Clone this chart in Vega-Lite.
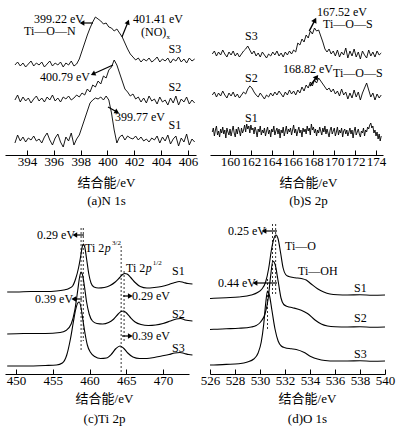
{
"$schema": "https://vega.github.io/schema/vega-lite/v6.json",
"padding": {"left": 5, "top": 5, "right": 5, "bottom": 5},
"background": "white",
"config": {
  "view": {"stroke": null},
  "font": "Liberation Serif",
  "text": {"font": "Liberation Serif", "fontSize": 12, "color": "black"},
  "axis": {"labelOverlap": false},
  "axisQuantitative": {"labelOverlap": false},
  "axisX": {"domainColor": "black", "tickColor": "black", "labelColor": "black", "titleColor": "black", "labelFont": "Liberation Serif", "labelFontSize": 13, "titleFont": "Liberation Serif, Noto Sans CJK SC", "titleFontSize": 13, "titleFontWeight": "normal", "tickSize": -5, "labelPadding": 5, "labelFlush": false, "labelOverlap": false, "grid": false, "titleLineHeight": 18, "titlePadding": 8}
},
"datasets": {
"aL": [
{"s":1,"x":393.1,"y":12},{"s":1,"x":393.3,"y":20},{"s":1,"x":393.5,"y":14},{"s":1,"x":393.7,"y":18},{"s":1,"x":393.9,"y":13},{"s":1,"x":394.1,"y":17},{"s":1,"x":394.3,"y":15},{"s":1,"x":394.5,"y":19},{"s":1,"x":394.7,"y":14},{"s":1,"x":394.9,"y":16},{"s":1,"x":395.1,"y":12},{"s":1,"x":395.3,"y":18},{"s":1,"x":395.5,"y":22},{"s":1,"x":395.7,"y":15},{"s":1,"x":395.9,"y":10},{"s":1,"x":396.1,"y":17},{"s":1,"x":396.3,"y":21},{"s":1,"x":396.5,"y":13},{"s":1,"x":396.7,"y":8},{"s":1,"x":396.9,"y":18},{"s":1,"x":397.1,"y":14},{"s":1,"x":397.3,"y":22},{"s":1,"x":397.5,"y":10},{"s":1,"x":397.7,"y":16},{"s":1,"x":397.9,"y":20},{"s":1,"x":398.1,"y":28},{"s":1,"x":398.3,"y":36},{"s":1,"x":398.5,"y":44},{"s":1,"x":398.7,"y":52},{"s":1,"x":398.9,"y":55},{"s":1,"x":399.1,"y":57},{"s":1,"x":399.3,"y":56},{"s":1,"x":399.5,"y":58},{"s":1,"x":399.7,"y":55},{"s":1,"x":399.9,"y":59},{"s":1,"x":400.1,"y":55},{"s":1,"x":400.3,"y":42},{"s":1,"x":400.5,"y":25},{"s":1,"x":400.7,"y":12},{"s":1,"x":400.9,"y":18},{"s":1,"x":401.1,"y":20},{"s":1,"x":401.3,"y":15},{"s":1,"x":401.5,"y":19},{"s":1,"x":401.7,"y":17},{"s":1,"x":401.9,"y":16},{"s":1,"x":402.1,"y":19},{"s":1,"x":402.3,"y":15},{"s":1,"x":402.5,"y":18},{"s":1,"x":402.7,"y":14},{"s":1,"x":402.9,"y":16},{"s":1,"x":403.1,"y":13},{"s":1,"x":403.3,"y":17},{"s":1,"x":403.5,"y":15},{"s":1,"x":403.7,"y":19},{"s":1,"x":403.9,"y":12},{"s":1,"x":404.1,"y":18},{"s":1,"x":404.3,"y":14},{"s":1,"x":404.5,"y":20},{"s":1,"x":404.7,"y":11},{"s":1,"x":404.9,"y":16},{"s":1,"x":405.1,"y":19},{"s":1,"x":405.3,"y":9},{"s":1,"x":405.5,"y":17},{"s":1,"x":405.7,"y":13},{"s":1,"x":405.9,"y":21},{"s":1,"x":406.1,"y":10},{"s":1,"x":406.3,"y":16},{"s":1,"x":406.5,"y":13},
{"s":2,"x":393.1,"y":55},{"s":2,"x":393.3,"y":60},{"s":2,"x":393.5,"y":53},{"s":2,"x":393.7,"y":58},{"s":2,"x":393.9,"y":54},{"s":2,"x":394.1,"y":57},{"s":2,"x":394.3,"y":52},{"s":2,"x":394.5,"y":56},{"s":2,"x":394.7,"y":59},{"s":2,"x":394.9,"y":54},{"s":2,"x":395.1,"y":57},{"s":2,"x":395.3,"y":53},{"s":2,"x":395.5,"y":58},{"s":2,"x":395.7,"y":55},{"s":2,"x":395.9,"y":60},{"s":2,"x":396.1,"y":54},{"s":2,"x":396.3,"y":57},{"s":2,"x":396.5,"y":53},{"s":2,"x":396.7,"y":58},{"s":2,"x":396.9,"y":56},{"s":2,"x":397.1,"y":59},{"s":2,"x":397.3,"y":55},{"s":2,"x":397.5,"y":57},{"s":2,"x":397.7,"y":60},{"s":2,"x":397.9,"y":58},{"s":2,"x":398.1,"y":62},{"s":2,"x":398.3,"y":60},{"s":2,"x":398.5,"y":66},{"s":2,"x":398.7,"y":63},{"s":2,"x":398.9,"y":70},{"s":2,"x":399.1,"y":68},{"s":2,"x":399.3,"y":74},{"s":2,"x":399.5,"y":71},{"s":2,"x":399.7,"y":79},{"s":2,"x":399.9,"y":77},{"s":2,"x":400.1,"y":85},{"s":2,"x":400.3,"y":88},{"s":2,"x":400.5,"y":95},{"s":2,"x":400.7,"y":90},{"s":2,"x":400.9,"y":82},{"s":2,"x":401.1,"y":74},{"s":2,"x":401.3,"y":66},{"s":2,"x":401.5,"y":63},{"s":2,"x":401.7,"y":59},{"s":2,"x":401.9,"y":61},{"s":2,"x":402.1,"y":56},{"s":2,"x":402.3,"y":58},{"s":2,"x":402.5,"y":53},{"s":2,"x":402.7,"y":57},{"s":2,"x":402.9,"y":52},{"s":2,"x":403.1,"y":59},{"s":2,"x":403.3,"y":54},{"s":2,"x":403.5,"y":56},{"s":2,"x":403.7,"y":51},{"s":2,"x":403.9,"y":58},{"s":2,"x":404.1,"y":53},{"s":2,"x":404.3,"y":55},{"s":2,"x":404.5,"y":50},{"s":2,"x":404.7,"y":57},{"s":2,"x":404.9,"y":52},{"s":2,"x":405.1,"y":59},{"s":2,"x":405.3,"y":50},{"s":2,"x":405.5,"y":56},{"s":2,"x":405.7,"y":53},{"s":2,"x":405.9,"y":58},{"s":2,"x":406.1,"y":51},{"s":2,"x":406.3,"y":55},{"s":2,"x":406.5,"y":52},
{"s":3,"x":393.1,"y":90},{"s":3,"x":393.3,"y":93},{"s":3,"x":393.5,"y":89},{"s":3,"x":393.7,"y":92},{"s":3,"x":393.9,"y":88},{"s":3,"x":394.1,"y":91},{"s":3,"x":394.3,"y":94},{"s":3,"x":394.5,"y":89},{"s":3,"x":394.7,"y":92},{"s":3,"x":394.9,"y":90},{"s":3,"x":395.1,"y":93},{"s":3,"x":395.3,"y":88},{"s":3,"x":395.5,"y":91},{"s":3,"x":395.7,"y":94},{"s":3,"x":395.9,"y":89},{"s":3,"x":396.1,"y":92},{"s":3,"x":396.3,"y":90},{"s":3,"x":396.5,"y":93},{"s":3,"x":396.7,"y":88},{"s":3,"x":396.9,"y":92},{"s":3,"x":397.1,"y":90},{"s":3,"x":397.3,"y":94},{"s":3,"x":397.5,"y":89},{"s":3,"x":397.7,"y":91},{"s":3,"x":397.9,"y":96},{"s":3,"x":398.1,"y":104},{"s":3,"x":398.3,"y":112},{"s":3,"x":398.5,"y":120},{"s":3,"x":398.7,"y":127},{"s":3,"x":398.9,"y":133},{"s":3,"x":399.1,"y":138},{"s":3,"x":399.3,"y":136},{"s":3,"x":399.5,"y":134},{"s":3,"x":399.7,"y":131},{"s":3,"x":399.9,"y":132},{"s":3,"x":400.1,"y":128},{"s":3,"x":400.3,"y":127},{"s":3,"x":400.5,"y":124},{"s":3,"x":400.7,"y":126},{"s":3,"x":400.9,"y":122},{"s":3,"x":401.1,"y":118},{"s":3,"x":401.3,"y":112},{"s":3,"x":401.5,"y":106},{"s":3,"x":401.7,"y":101},{"s":3,"x":401.9,"y":98},{"s":3,"x":402.1,"y":95},{"s":3,"x":402.3,"y":97},{"s":3,"x":402.5,"y":93},{"s":3,"x":402.7,"y":96},{"s":3,"x":402.9,"y":94},{"s":3,"x":403.1,"y":97},{"s":3,"x":403.3,"y":93},{"s":3,"x":403.5,"y":95},{"s":3,"x":403.7,"y":98},{"s":3,"x":403.9,"y":93},{"s":3,"x":404.1,"y":96},{"s":3,"x":404.3,"y":94},{"s":3,"x":404.5,"y":97},{"s":3,"x":404.7,"y":92},{"s":3,"x":404.9,"y":96},{"s":3,"x":405.1,"y":94},{"s":3,"x":405.3,"y":98},{"s":3,"x":405.5,"y":93},{"s":3,"x":405.7,"y":96},{"s":3,"x":405.9,"y":92},{"s":3,"x":406.1,"y":97},{"s":3,"x":406.3,"y":94},{"s":3,"x":406.5,"y":96}
],
"aT": [
{"t":"399.22 eV","x":394.52,"y":136},{"t":"Ti—O—N","x":393.78,"y":124},{"t":"401.41 eV","x":401.9,"y":136},{"t":"(NO)","x":402.5,"y":123},{"t":"S3","x":404.55,"y":106},{"t":"400.79 eV","x":394.97,"y":78},{"t":"S2","x":404.55,"y":68},{"t":"399.77 eV","x":400.56,"y":38},{"t":"S1","x":404.55,"y":30}
],
"aS": [{"t":"x","x":404.4,"y":118}],
"aA": [
{"id":"a1","x":398.92,"y":132,"x2":398.1,"y2":132},
{"id":"a2","x":401.08,"y":118,"x2":401.53,"y2":133},
{"id":"a3","x":400.41,"y":90,"x2":398.92,"y2":81},
{"id":"a4","x":400.04,"y":48,"x2":400.71,"y2":43}
],
"bL": [
{"s":1,"x":158.3,"y":23},{"s":1,"x":158.4,"y":27},{"s":1,"x":158.5,"y":19},{"s":1,"x":158.6,"y":25},{"s":1,"x":158.7,"y":29},{"s":1,"x":158.8,"y":20},{"s":1,"x":158.9,"y":24},{"s":1,"x":159.0,"y":18},{"s":1,"x":159.1,"y":26},{"s":1,"x":159.2,"y":22},
{"s":1,"x":159.3,"y":28},{"s":1,"x":159.4,"y":21},{"s":1,"x":159.5,"y":25},{"s":1,"x":159.6,"y":17},{"s":1,"x":159.7,"y":27},{"s":1,"x":159.8,"y":23},{"s":1,"x":159.9,"y":20},{"s":1,"x":160.0,"y":26},{"s":1,"x":160.1,"y":19},{"s":1,"x":160.2,"y":24},
{"s":1,"x":160.3,"y":29},{"s":1,"x":160.4,"y":22},{"s":1,"x":160.5,"y":18},{"s":1,"x":160.6,"y":26},{"s":1,"x":160.7,"y":21},{"s":1,"x":160.8,"y":28},{"s":1,"x":160.9,"y":24},{"s":1,"x":161.0,"y":19},{"s":1,"x":161.1,"y":27},{"s":1,"x":161.2,"y":22},
{"s":1,"x":161.3,"y":25},{"s":1,"x":161.4,"y":30},{"s":1,"x":161.5,"y":23},{"s":1,"x":161.6,"y":31},{"s":1,"x":161.7,"y":26},{"s":1,"x":161.8,"y":29},{"s":1,"x":161.9,"y":22},{"s":1,"x":162.0,"y":30},{"s":1,"x":162.1,"y":25},{"s":1,"x":162.2,"y":27},
{"s":1,"x":162.3,"y":21},{"s":1,"x":162.4,"y":28},{"s":1,"x":162.5,"y":24},{"s":1,"x":162.6,"y":18},{"s":1,"x":162.7,"y":26},{"s":1,"x":162.8,"y":23},{"s":1,"x":162.9,"y":29},{"s":1,"x":163.0,"y":20},{"s":1,"x":163.1,"y":25},{"s":1,"x":163.2,"y":22},
{"s":1,"x":163.3,"y":27},{"s":1,"x":163.4,"y":19},{"s":1,"x":163.5,"y":24},{"s":1,"x":163.6,"y":28},{"s":1,"x":163.7,"y":21},{"s":1,"x":163.8,"y":25},{"s":1,"x":163.9,"y":18},{"s":1,"x":164.0,"y":26},{"s":1,"x":164.1,"y":23},{"s":1,"x":164.2,"y":29},
{"s":1,"x":164.3,"y":20},{"s":1,"x":164.4,"y":24},{"s":1,"x":164.5,"y":27},{"s":1,"x":164.6,"y":21},{"s":1,"x":164.7,"y":26},{"s":1,"x":164.8,"y":17},{"s":1,"x":164.9,"y":25},{"s":1,"x":165.0,"y":22},{"s":1,"x":165.1,"y":28},{"s":1,"x":165.2,"y":19},
{"s":1,"x":165.3,"y":24},{"s":1,"x":165.4,"y":29},{"s":1,"x":165.5,"y":21},{"s":1,"x":165.6,"y":26},{"s":1,"x":165.7,"y":23},{"s":1,"x":165.8,"y":27},{"s":1,"x":165.9,"y":20},{"s":1,"x":166.0,"y":25},{"s":1,"x":166.1,"y":30},{"s":1,"x":166.2,"y":22},
{"s":1,"x":166.3,"y":26},{"s":1,"x":166.4,"y":19},{"s":1,"x":166.5,"y":24},{"s":1,"x":166.6,"y":28},{"s":1,"x":166.7,"y":22},{"s":1,"x":166.8,"y":25},{"s":1,"x":166.9,"y":18},{"s":1,"x":167.0,"y":27},{"s":1,"x":167.1,"y":23},{"s":1,"x":167.2,"y":26},
{"s":1,"x":167.3,"y":21},{"s":1,"x":167.4,"y":29},{"s":1,"x":167.5,"y":24},{"s":1,"x":167.6,"y":27},{"s":1,"x":167.7,"y":20},{"s":1,"x":167.8,"y":31},{"s":1,"x":167.9,"y":25},{"s":1,"x":168.0,"y":28},{"s":1,"x":168.1,"y":22},{"s":1,"x":168.2,"y":26},
{"s":1,"x":168.3,"y":19},{"s":1,"x":168.4,"y":25},{"s":1,"x":168.5,"y":22},{"s":1,"x":168.6,"y":28},{"s":1,"x":168.7,"y":24},{"s":1,"x":168.8,"y":20},{"s":1,"x":168.9,"y":27},{"s":1,"x":169.0,"y":23},{"s":1,"x":169.1,"y":29},{"s":1,"x":169.2,"y":21},
{"s":1,"x":169.3,"y":26},{"s":1,"x":169.4,"y":22},{"s":1,"x":169.5,"y":18},{"s":1,"x":169.6,"y":25},{"s":1,"x":169.7,"y":28},{"s":1,"x":169.8,"y":21},{"s":1,"x":169.9,"y":24},{"s":1,"x":170.0,"y":27},{"s":1,"x":170.1,"y":19},{"s":1,"x":170.2,"y":23},
{"s":1,"x":170.3,"y":28},{"s":1,"x":170.4,"y":20},{"s":1,"x":170.5,"y":25},{"s":1,"x":170.6,"y":22},{"s":1,"x":170.7,"y":27},{"s":1,"x":170.8,"y":18},{"s":1,"x":170.9,"y":24},{"s":1,"x":171.0,"y":26},{"s":1,"x":171.1,"y":21},{"s":1,"x":171.2,"y":25},
{"s":1,"x":171.3,"y":19},{"s":1,"x":171.4,"y":23},{"s":1,"x":171.5,"y":27},{"s":1,"x":171.6,"y":21},{"s":1,"x":171.7,"y":25},{"s":1,"x":171.8,"y":17},{"s":1,"x":171.9,"y":24},{"s":1,"x":172.0,"y":28},{"s":1,"x":172.1,"y":20},{"s":1,"x":172.2,"y":23},
{"s":1,"x":172.3,"y":26},{"s":1,"x":172.4,"y":21},{"s":1,"x":172.5,"y":18},{"s":1,"x":172.6,"y":24},{"s":1,"x":172.7,"y":22},{"s":1,"x":172.8,"y":27},{"s":1,"x":172.9,"y":19},{"s":1,"x":173.0,"y":25},{"s":1,"x":173.1,"y":23},{"s":1,"x":173.2,"y":28},
{"s":1,"x":173.3,"y":26},{"s":1,"x":173.4,"y":30},{"s":1,"x":173.5,"y":32},{"s":1,"x":173.6,"y":27},{"s":1,"x":173.7,"y":29},{"s":1,"x":173.8,"y":22},{"s":1,"x":173.9,"y":25},{"s":1,"x":174.0,"y":19},{"s":1,"x":174.1,"y":23},{"s":1,"x":174.2,"y":16},
{"s":1,"x":174.3,"y":21},{"s":1,"x":174.4,"y":14},{"s":1,"x":174.5,"y":19},
{"s":2,"x":158.3,"y":60},{"s":2,"x":158.5,"y":63},{"s":2,"x":158.7,"y":58},{"s":2,"x":158.9,"y":62},{"s":2,"x":159.1,"y":59},{"s":2,"x":159.3,"y":64},{"s":2,"x":159.5,"y":60},{"s":2,"x":159.7,"y":57},{"s":2,"x":159.9,"y":62},
{"s":2,"x":160.1,"y":59},{"s":2,"x":160.3,"y":63},{"s":2,"x":160.5,"y":58},{"s":2,"x":160.7,"y":61},{"s":2,"x":160.9,"y":57},{"s":2,"x":161.1,"y":60},{"s":2,"x":161.3,"y":63},{"s":2,"x":161.5,"y":61},{"s":2,"x":161.7,"y":66},{"s":2,"x":161.9,"y":69},
{"s":2,"x":162.1,"y":67},{"s":2,"x":162.3,"y":63},{"s":2,"x":162.5,"y":60},{"s":2,"x":162.7,"y":58},{"s":2,"x":162.9,"y":62},{"s":2,"x":163.1,"y":59},{"s":2,"x":163.3,"y":56},{"s":2,"x":163.5,"y":60},{"s":2,"x":163.7,"y":58},{"s":2,"x":163.9,"y":62},
{"s":2,"x":164.1,"y":59},{"s":2,"x":164.3,"y":63},{"s":2,"x":164.5,"y":60},{"s":2,"x":164.7,"y":64},{"s":2,"x":164.9,"y":61},{"s":2,"x":165.1,"y":58},{"s":2,"x":165.3,"y":63},{"s":2,"x":165.5,"y":60},{"s":2,"x":165.7,"y":65},{"s":2,"x":165.9,"y":61},
{"s":2,"x":166.1,"y":64},{"s":2,"x":166.3,"y":60},{"s":2,"x":166.5,"y":65},{"s":2,"x":166.7,"y":62},{"s":2,"x":166.9,"y":68},{"s":2,"x":167.1,"y":64},{"s":2,"x":167.3,"y":70},{"s":2,"x":167.5,"y":67},{"s":2,"x":167.7,"y":73},{"s":2,"x":167.9,"y":69},
{"s":2,"x":168.1,"y":75},{"s":2,"x":168.3,"y":72},{"s":2,"x":168.5,"y":77},{"s":2,"x":168.7,"y":74},{"s":2,"x":168.9,"y":71},{"s":2,"x":169.1,"y":68},{"s":2,"x":169.3,"y":65},{"s":2,"x":169.5,"y":67},{"s":2,"x":169.7,"y":63},{"s":2,"x":169.9,"y":66},
{"s":2,"x":170.1,"y":61},{"s":2,"x":170.3,"y":64},{"s":2,"x":170.5,"y":59},{"s":2,"x":170.7,"y":66},{"s":2,"x":170.9,"y":60},{"s":2,"x":171.1,"y":63},{"s":2,"x":171.3,"y":56},{"s":2,"x":171.5,"y":62},{"s":2,"x":171.7,"y":57},{"s":2,"x":171.9,"y":65},
{"s":2,"x":172.1,"y":58},{"s":2,"x":172.3,"y":63},{"s":2,"x":172.5,"y":55},{"s":2,"x":172.7,"y":62},{"s":2,"x":172.9,"y":67},{"s":2,"x":173.1,"y":72},{"s":2,"x":173.3,"y":65},{"s":2,"x":173.5,"y":58},{"s":2,"x":173.7,"y":62},{"s":2,"x":173.9,"y":55},
{"s":2,"x":174.1,"y":61},{"s":2,"x":174.3,"y":57},{"s":2,"x":174.5,"y":60},
{"s":3,"x":158.3,"y":101},{"s":3,"x":158.5,"y":104},{"s":3,"x":158.7,"y":99},{"s":3,"x":158.9,"y":103},{"s":3,"x":159.1,"y":100},{"s":3,"x":159.3,"y":105},{"s":3,"x":159.5,"y":101},{"s":3,"x":159.7,"y":98},{"s":3,"x":159.9,"y":103},
{"s":3,"x":160.1,"y":100},{"s":3,"x":160.3,"y":104},{"s":3,"x":160.5,"y":99},{"s":3,"x":160.7,"y":102},{"s":3,"x":160.9,"y":98},{"s":3,"x":161.1,"y":101},{"s":3,"x":161.3,"y":104},{"s":3,"x":161.5,"y":106},{"s":3,"x":161.7,"y":109},{"s":3,"x":161.9,"y":105},
{"s":3,"x":162.1,"y":101},{"s":3,"x":162.3,"y":104},{"s":3,"x":162.5,"y":99},{"s":3,"x":162.7,"y":102},{"s":3,"x":162.9,"y":98},{"s":3,"x":163.1,"y":103},{"s":3,"x":163.3,"y":100},{"s":3,"x":163.5,"y":97},{"s":3,"x":163.7,"y":101},{"s":3,"x":163.9,"y":99},
{"s":3,"x":164.1,"y":103},{"s":3,"x":164.3,"y":100},{"s":3,"x":164.5,"y":104},{"s":3,"x":164.7,"y":99},{"s":3,"x":164.9,"y":102},{"s":3,"x":165.1,"y":98},{"s":3,"x":165.3,"y":103},{"s":3,"x":165.5,"y":100},{"s":3,"x":165.7,"y":104},{"s":3,"x":165.9,"y":101},
{"s":3,"x":166.1,"y":105},{"s":3,"x":166.3,"y":103},{"s":3,"x":166.5,"y":112},{"s":3,"x":166.7,"y":110},{"s":3,"x":166.9,"y":116},{"s":3,"x":167.1,"y":113},{"s":3,"x":167.3,"y":120},{"s":3,"x":167.5,"y":117},{"s":3,"x":167.7,"y":124},{"s":3,"x":167.9,"y":121},
{"s":3,"x":168.1,"y":127},{"s":3,"x":168.3,"y":124},{"s":3,"x":168.5,"y":125},{"s":3,"x":168.7,"y":119},{"s":3,"x":168.9,"y":113},{"s":3,"x":169.1,"y":106},{"s":3,"x":169.3,"y":103},{"s":3,"x":169.5,"y":106},{"s":3,"x":169.7,"y":101},{"s":3,"x":169.9,"y":104},
{"s":3,"x":170.1,"y":99},{"s":3,"x":170.3,"y":105},{"s":3,"x":170.5,"y":98},{"s":3,"x":170.7,"y":103},{"s":3,"x":170.9,"y":100},{"s":3,"x":171.1,"y":107},{"s":3,"x":171.3,"y":97},{"s":3,"x":171.5,"y":104},{"s":3,"x":171.7,"y":99},{"s":3,"x":171.9,"y":106},
{"s":3,"x":172.1,"y":98},{"s":3,"x":172.3,"y":103},{"s":3,"x":172.5,"y":96},{"s":3,"x":172.7,"y":104},{"s":3,"x":172.9,"y":100},{"s":3,"x":173.1,"y":97},{"s":3,"x":173.3,"y":105},{"s":3,"x":173.5,"y":99},{"s":3,"x":173.7,"y":103},{"s":3,"x":173.9,"y":98},
{"s":3,"x":174.1,"y":104},{"s":3,"x":174.3,"y":100},{"s":3,"x":174.5,"y":102}
],
"bT": [
{"t":"S3","x":161.44,"y":119},{"t":"167.52 eV","x":168.34,"y":143},{"t":"Ti—O—S","x":168.92,"y":131},{"t":"S2","x":161.44,"y":77},{"t":"168.82 eV","x":165.08,"y":86},{"t":"Ti—O—S","x":169.88,"y":82},{"t":"S1","x":161.44,"y":37}
],
"bA": [
{"id":"b1","x":167.6,"y":124,"x2":168.15,"y2":135},
{"id":"b2","x":167.67,"y":69,"x2":168.31,"y2":78}
],
"cL": [
{"s":1,"x":448.8,"y":82},{"s":1,"x":450,"y":82},{"s":1,"x":452,"y":82.5},{"s":1,"x":454,"y":82.5},{"s":1,"x":455.5,"y":83},{"s":1,"x":456.5,"y":84},{"s":1,"x":457.2,"y":85.5},{"s":1,"x":457.7,"y":88},{"s":1,"x":458.1,"y":95},{"s":1,"x":458.5,"y":106},{"s":1,"x":458.8,"y":118},{"s":1,"x":459.0,"y":127},{"s":1,"x":459.15,"y":130},{"s":1,"x":459.35,"y":127},{"s":1,"x":459.6,"y":115},{"s":1,"x":459.9,"y":100},{"s":1,"x":460.2,"y":91},{"s":1,"x":460.6,"y":87},{"s":1,"x":461.2,"y":86},{"s":1,"x":462,"y":86.5},{"s":1,"x":462.8,"y":88.5},{"s":1,"x":463.5,"y":92},{"s":1,"x":464.1,"y":96.5},{"s":1,"x":464.5,"y":99.5},{"s":1,"x":464.8,"y":100.5},{"s":1,"x":465.1,"y":100},{"s":1,"x":465.6,"y":96.5},{"s":1,"x":466.2,"y":91.5},{"s":1,"x":466.9,"y":87.5},{"s":1,"x":467.8,"y":86},{"s":1,"x":468.8,"y":86.5},{"s":1,"x":469.8,"y":87.5},{"s":1,"x":470.8,"y":89.5},{"s":1,"x":471.6,"y":91.5},{"s":1,"x":472.2,"y":92.5},{"s":1,"x":472.8,"y":91.5},{"s":1,"x":473.4,"y":90.5},{"s":1,"x":474,"y":90},
{"s":2,"x":448.8,"y":40},{"s":2,"x":451,"y":40.5},{"s":2,"x":454,"y":40.5},{"s":2,"x":456,"y":41.5},{"s":2,"x":456.8,"y":43.5},{"s":2,"x":457.5,"y":50},{"s":2,"x":458.0,"y":64},{"s":2,"x":458.4,"y":84},{"s":2,"x":458.65,"y":97},{"s":2,"x":458.85,"y":102},{"s":2,"x":459.05,"y":99},{"s":2,"x":459.3,"y":88},{"s":2,"x":459.6,"y":72},{"s":2,"x":459.95,"y":60},{"s":2,"x":460.4,"y":53},{"s":2,"x":461.0,"y":50.5},{"s":2,"x":461.8,"y":50},{"s":2,"x":462.6,"y":51.5},{"s":2,"x":463.3,"y":55},{"s":2,"x":463.9,"y":60},{"s":2,"x":464.3,"y":62.5},{"s":2,"x":464.6,"y":63},{"s":2,"x":464.95,"y":61.5},{"s":2,"x":465.5,"y":57},{"s":2,"x":466.2,"y":52},{"s":2,"x":467,"y":49.5},{"s":2,"x":468,"y":48.5},{"s":2,"x":469,"y":49},{"s":2,"x":470,"y":50.5},{"s":2,"x":471,"y":53},{"s":2,"x":471.8,"y":55},{"s":2,"x":472.4,"y":55.5},{"s":2,"x":473,"y":54},{"s":2,"x":474,"y":53},
{"s":3,"x":448.8,"y":8},{"s":3,"x":451,"y":8},{"s":3,"x":454,"y":8.5},{"s":3,"x":455.5,"y":9},{"s":3,"x":456.3,"y":11},{"s":3,"x":456.9,"y":19},{"s":3,"x":457.4,"y":35},{"s":3,"x":457.8,"y":52},{"s":3,"x":458.1,"y":64},{"s":3,"x":458.4,"y":71},{"s":3,"x":458.6,"y":72},{"s":3,"x":458.85,"y":66},{"s":3,"x":459.1,"y":54},{"s":3,"x":459.4,"y":40},{"s":3,"x":459.7,"y":29},{"s":3,"x":460.1,"y":22},{"s":3,"x":460.7,"y":17.5},{"s":3,"x":461.5,"y":15.5},{"s":3,"x":462.3,"y":16},{"s":3,"x":463,"y":20},{"s":3,"x":463.6,"y":25.5},{"s":3,"x":464.15,"y":28},{"s":3,"x":464.6,"y":26},{"s":3,"x":465.2,"y":21},{"s":3,"x":465.9,"y":17},{"s":3,"x":466.8,"y":15.5},{"s":3,"x":467.8,"y":15.5},{"s":3,"x":468.8,"y":16.5},{"s":3,"x":469.8,"y":18},{"s":3,"x":470.8,"y":19.5},{"s":3,"x":471.6,"y":21},{"s":3,"x":472.3,"y":21.5},{"s":3,"x":472.9,"y":20.5},{"s":3,"x":473.5,"y":19.5},{"s":3,"x":474,"y":19}
],
"cT": [
{"t":"0.29 eV","x":452.86,"y":139},{"t":"Ti 2","x":459.39,"y":126},{"t":"Ti 2","x":464.97,"y":106},{"t":"S1","x":471.22,"y":103},{"t":"0.39 eV","x":452.59,"y":75},{"t":"0.29 eV","x":465.78,"y":78},{"t":"S2","x":471.22,"y":60},{"t":"0.39 eV","x":465.78,"y":38},{"t":"S3","x":471.22,"y":26}
],
"cI": [{"t":"p","x":462.08,"y":126},{"t":"p","x":467.66,"y":106}],
"cS": [{"t":"3/2","x":463.05,"y":131},{"t":"1/2","x":468.6,"y":111}],
"cA": [
{"id":"c1","x":459.25,"y":139,"x2":458.0,"y2":139},
{"id":"c2","x":458.98,"y":75,"x2":457.85,"y2":75},
{"id":"c3","x":464.56,"y":78,"x2":465.55,"y2":78},
{"id":"c4","x":464.42,"y":38,"x2":465.55,"y2":38}
],
"cD": [
{"x":459.15,"y":146,"y2":33},{"x":458.85,"y":146,"y2":23},{"x":464.3,"y":128,"y2":0},{"x":464.7,"y":103,"y2":33}
],
"dL": [
{"s":1,"x":526,"y":75.5},{"s":1,"x":526.3,"y":75.7},{"s":1,"x":527.3,"y":76.3},{"s":1,"x":528.3,"y":77},{"s":1,"x":529.3,"y":79},{"s":1,"x":529.8,"y":81.5},{"s":1,"x":530.15,"y":85},{"s":1,"x":530.45,"y":92},{"s":1,"x":530.7,"y":106},{"s":1,"x":530.9,"y":123},{"s":1,"x":531.1,"y":135},{"s":1,"x":531.28,"y":139},{"s":1,"x":531.45,"y":135},{"s":1,"x":531.65,"y":121},{"s":1,"x":531.85,"y":106},{"s":1,"x":532.05,"y":99.5},{"s":1,"x":532.3,"y":97.5},{"s":1,"x":532.8,"y":96.3},{"s":1,"x":533.3,"y":95.5},{"s":1,"x":533.7,"y":94},{"s":1,"x":534.1,"y":90},{"s":1,"x":534.6,"y":85.3},{"s":1,"x":535.1,"y":82},{"s":1,"x":535.6,"y":80},{"s":1,"x":536.2,"y":79.2},{"s":1,"x":537,"y":79},{"s":1,"x":538,"y":79.2},{"s":1,"x":539,"y":78.8},{"s":1,"x":540,"y":79},
{"s":2,"x":526,"y":44.5},{"s":2,"x":526.3,"y":44.7},{"s":2,"x":527.3,"y":45.2},{"s":2,"x":528.3,"y":45.7},{"s":2,"x":529.3,"y":47},{"s":2,"x":529.7,"y":48.5},{"s":2,"x":530.05,"y":52},{"s":2,"x":530.4,"y":60},{"s":2,"x":530.65,"y":75},{"s":2,"x":530.85,"y":98},{"s":2,"x":531.03,"y":113},{"s":2,"x":531.2,"y":110},{"s":2,"x":531.45,"y":93},{"s":2,"x":531.68,"y":76},{"s":2,"x":531.9,"y":69.5},{"s":2,"x":532.2,"y":67.5},{"s":2,"x":532.6,"y":66.3},{"s":2,"x":533.3,"y":63.7},{"s":2,"x":533.8,"y":60.5},{"s":2,"x":534.4,"y":54},{"s":2,"x":534.9,"y":50},{"s":2,"x":535.4,"y":48},{"s":2,"x":536,"y":47.2},{"s":2,"x":537,"y":47},{"s":2,"x":538,"y":47.2},{"s":2,"x":539,"y":46.8},{"s":2,"x":540,"y":47},
{"s":3,"x":526,"y":9},{"s":3,"x":526.3,"y":9},{"s":3,"x":527.3,"y":9.6},{"s":3,"x":528.3,"y":10.3},{"s":3,"x":529.0,"y":12},{"s":3,"x":529.5,"y":15},{"s":3,"x":529.85,"y":21},{"s":3,"x":530.1,"y":32},{"s":3,"x":530.3,"y":50},{"s":3,"x":530.45,"y":70},{"s":3,"x":530.6,"y":83},{"s":3,"x":530.75,"y":79},{"s":3,"x":530.95,"y":64},{"s":3,"x":531.2,"y":45},{"s":3,"x":531.45,"y":33},{"s":3,"x":531.7,"y":28},{"s":3,"x":532.0,"y":26.3},{"s":3,"x":532.5,"y":25.3},{"s":3,"x":532.9,"y":24.5},{"s":3,"x":533.5,"y":21.8},{"s":3,"x":534.1,"y":17.3},{"s":3,"x":534.6,"y":15},{"s":3,"x":535.2,"y":13.5},{"s":3,"x":536,"y":13},{"s":3,"x":537,"y":13},{"s":3,"x":538,"y":13.2},{"s":3,"x":539,"y":12.8},{"s":3,"x":540,"y":13}
],
"dT": [
{"t":"0.25 eV","x":527.44,"y":143},{"t":"Ti—O","x":532.0,"y":128},{"t":"Ti—OH","x":533.04,"y":103},{"t":"0.44 eV","x":526.64,"y":91},{"t":"S1","x":537.52,"y":86},{"t":"S2","x":537.52,"y":56},{"t":"S3","x":537.52,"y":20}
],
"dA": [
{"id":"d1","x":531.36,"y":143,"x2":530.32,"y2":143},
{"id":"d2","x":531.36,"y":91,"x2":529.6,"y2":91}
],
"dD": [
{"x":531.0,"y":150,"y2":80},{"x":531.25,"y":150,"y2":78},{"x":530.6,"y":95,"y2":43}
]
},
"columns": 2,
"align": "none",
"bounds": "flush",
"spacing": {"row": 73, "column": 14},
"concat": [
 {"width": 191, "height": 144, "layer": [
  {"data": {"name": "aL"}, "mark": {"type": "line", "color": "black", "strokeWidth": 0.9},
   "encoding": {"x": {"field": "x", "type": "quantitative", "scale": {"domain": [392.36, 406.6], "nice": false}, "axis": {"values": [394,396,398,400,402,404,406], "title": ["结合能/eV", "(a)N 1s"], "titleX": 101, "labelOverlap": false, "titleFontWeight": "normal"}},
    "y": {"field": "y", "type": "quantitative", "scale": {"domain": [0, 144], "nice": false}, "axis": null}, "detail": {"field": "s"}}},
  {"data": {"name": "aT"}, "mark": {"type": "text", "align": "left", "baseline": "middle"},
   "encoding": {"x": {"field": "x", "type": "quantitative", "scale": {"domain": [392.36, 406.6], "nice": false}, "axis": {"values": [394,396,398,400,402,404,406], "title": ["结合能/eV", "(a)N 1s"], "titleX": 101, "labelOverlap": false, "titleFontWeight": "normal"}}, "y": {"field": "y", "type": "quantitative", "scale": {"domain": [0, 144], "nice": false}, "axis": null}, "text": {"field": "t"}}},
  {"data": {"name": "aS"}, "mark": {"type": "text", "align": "left", "baseline": "middle", "fontSize": 7},
   "encoding": {"x": {"field": "x", "type": "quantitative", "scale": {"domain": [392.36, 406.6], "nice": false}, "axis": {"values": [394,396,398,400,402,404,406], "title": ["结合能/eV", "(a)N 1s"], "titleX": 101, "labelOverlap": false, "titleFontWeight": "normal"}}, "y": {"field": "y", "type": "quantitative", "scale": {"domain": [0, 144], "nice": false}, "axis": null}, "text": {"field": "t"}}},
  {"data": {"name": "aA"}, "mark": {"type": "rule", "color": "black", "strokeWidth": 1.2},
   "encoding": {"x": {"field": "x", "type": "quantitative", "scale": {"domain": [392.36, 406.6], "nice": false}, "axis": {"values": [394,396,398,400,402,404,406], "title": ["结合能/eV", "(a)N 1s"], "titleX": 101, "labelOverlap": false, "titleFontWeight": "normal"}}, "y": {"field": "y", "type": "quantitative", "scale": {"domain": [0, 144], "nice": false}, "axis": null}, "x2": {"field": "x2"}, "y2": {"field": "y2"}}},
  {"data": {"name": "aA"}, "transform": [{"filter": "datum.id=='a1'"}], "mark": {"type": "point", "shape": "triangle-up", "angle": 270, "filled": true, "size": 30, "opacity": 1, "color": "black"},
   "encoding": {"x": {"field": "x2", "type": "quantitative", "scale": {"domain": [392.36, 406.6], "nice": false}, "axis": {"values": [394,396,398,400,402,404,406], "title": ["结合能/eV", "(a)N 1s"], "titleX": 101, "labelOverlap": false, "titleFontWeight": "normal"}}, "y": {"field": "y2", "type": "quantitative", "scale": {"domain": [0, 144], "nice": false}, "axis": null}}},
  {"data": {"name": "aA"}, "transform": [{"filter": "datum.id=='a2'"}], "mark": {"type": "point", "shape": "triangle-up", "angle": 22, "filled": true, "size": 30, "opacity": 1, "color": "black"},
   "encoding": {"x": {"field": "x2", "type": "quantitative", "scale": {"domain": [392.36, 406.6], "nice": false}, "axis": {"values": [394,396,398,400,402,404,406], "title": ["结合能/eV", "(a)N 1s"], "titleX": 101, "labelOverlap": false, "titleFontWeight": "normal"}}, "y": {"field": "y2", "type": "quantitative", "scale": {"domain": [0, 144], "nice": false}, "axis": null}}},
  {"data": {"name": "aA"}, "transform": [{"filter": "datum.id=='a3'"}], "mark": {"type": "point", "shape": "triangle-up", "angle": 246, "filled": true, "size": 30, "opacity": 1, "color": "black"},
   "encoding": {"x": {"field": "x2", "type": "quantitative", "scale": {"domain": [392.36, 406.6], "nice": false}, "axis": {"values": [394,396,398,400,402,404,406], "title": ["结合能/eV", "(a)N 1s"], "titleX": 101, "labelOverlap": false, "titleFontWeight": "normal"}}, "y": {"field": "y2", "type": "quantitative", "scale": {"domain": [0, 144], "nice": false}, "axis": null}}},
  {"data": {"name": "aA"}, "transform": [{"filter": "datum.id=='a4'"}], "mark": {"type": "point", "shape": "triangle-up", "angle": 119, "filled": true, "size": 30, "opacity": 1, "color": "black"},
   "encoding": {"x": {"field": "x2", "type": "quantitative", "scale": {"domain": [392.36, 406.6], "nice": false}, "axis": {"values": [394,396,398,400,402,404,406], "title": ["结合能/eV", "(a)N 1s"], "titleX": 101, "labelOverlap": false, "titleFontWeight": "normal"}}, "y": {"field": "y2", "type": "quantitative", "scale": {"domain": [0, 144], "nice": false}, "axis": null}}}
 ]},
 {"width": 173, "height": 144, "layer": [
  {"data": {"name": "bL"}, "mark": {"type": "line", "color": "black", "strokeWidth": 0.9},
   "encoding": {"x": {"field": "x", "type": "quantitative", "scale": {"domain": [158.08, 174.67], "nice": false}, "axis": {"values": [160,162,164,166,168,170,172,174], "title": ["结合能/eV", "(b)S 2p"], "titleX": 98, "labelOverlap": false, "titleFontWeight": "normal"}},
    "y": {"field": "y", "type": "quantitative", "scale": {"domain": [0, 144], "nice": false}, "axis": null}, "detail": {"field": "s"}}},
  {"data": {"name": "bT"}, "mark": {"type": "text", "align": "left", "baseline": "middle"},
   "encoding": {"x": {"field": "x", "type": "quantitative", "scale": {"domain": [158.08, 174.67], "nice": false}, "axis": {"values": [160,162,164,166,168,170,172,174], "title": ["结合能/eV", "(b)S 2p"], "titleX": 98, "labelOverlap": false, "titleFontWeight": "normal"}}, "y": {"field": "y", "type": "quantitative", "scale": {"domain": [0, 144], "nice": false}, "axis": null}, "text": {"field": "t"}}},
  {"data": {"name": "bA"}, "mark": {"type": "rule", "color": "black", "strokeWidth": 1.5},
   "encoding": {"x": {"field": "x", "type": "quantitative", "scale": {"domain": [158.08, 174.67], "nice": false}, "axis": {"values": [160,162,164,166,168,170,172,174], "title": ["结合能/eV", "(b)S 2p"], "titleX": 98, "labelOverlap": false, "titleFontWeight": "normal"}}, "y": {"field": "y", "type": "quantitative", "scale": {"domain": [0, 144], "nice": false}, "axis": null}, "x2": {"field": "x2"}, "y2": {"field": "y2"}}},
  {"data": {"name": "bA"}, "transform": [{"filter": "datum.id=='b1'"}], "mark": {"type": "point", "shape": "triangle-up", "angle": 27, "filled": true, "size": 35, "opacity": 1, "color": "black"},
   "encoding": {"x": {"field": "x2", "type": "quantitative", "scale": {"domain": [158.08, 174.67], "nice": false}, "axis": {"values": [160,162,164,166,168,170,172,174], "title": ["结合能/eV", "(b)S 2p"], "titleX": 98, "labelOverlap": false, "titleFontWeight": "normal"}}, "y": {"field": "y2", "type": "quantitative", "scale": {"domain": [0, 144], "nice": false}, "axis": null}}},
  {"data": {"name": "bA"}, "transform": [{"filter": "datum.id=='b2'"}], "mark": {"type": "point", "shape": "triangle-up", "angle": 36, "filled": true, "size": 35, "opacity": 1, "color": "black"},
   "encoding": {"x": {"field": "x2", "type": "quantitative", "scale": {"domain": [158.08, 174.67], "nice": false}, "axis": {"values": [160,162,164,166,168,170,172,174], "title": ["结合能/eV", "(b)S 2p"], "titleX": 98, "labelOverlap": false, "titleFontWeight": "normal"}}, "y": {"field": "y2", "type": "quantitative", "scale": {"domain": [0, 144], "nice": false}, "axis": null}}}
 ]},
 {"width": 184, "height": 146, "layer": [
  {"data": {"name": "cL"}, "mark": {"type": "line", "color": "black", "strokeWidth": 1.1, "interpolate": "monotone"},
   "encoding": {"x": {"field": "x", "type": "quantitative", "scale": {"domain": [448.5, 473.53], "nice": false}, "axis": {"values": [450,455,460,465,470], "title": ["结合能/eV", "(c)Ti 2p"], "titleX": 99, "titlePadding": 5, "titleLineHeight": 20, "labelOverlap": false, "titleFontWeight": "normal"}},
    "y": {"field": "y", "type": "quantitative", "scale": {"domain": [0, 146], "nice": false}, "axis": null}, "detail": {"field": "s"}}},
  {"data": {"name": "cD"}, "mark": {"type": "rule", "color": "black", "strokeWidth": 0.8, "strokeDash": [2, 2]},
   "encoding": {"x": {"field": "x", "type": "quantitative", "scale": {"domain": [448.5, 473.53], "nice": false}, "axis": {"values": [450,455,460,465,470], "title": ["结合能/eV", "(c)Ti 2p"], "titleX": 99, "titlePadding": 5, "titleLineHeight": 20, "labelOverlap": false, "titleFontWeight": "normal"}}, "y": {"field": "y", "type": "quantitative", "scale": {"domain": [0, 146], "nice": false}, "axis": null}, "y2": {"field": "y2"}}},
  {"data": {"name": "cT"}, "mark": {"type": "text", "align": "left", "baseline": "middle"},
   "encoding": {"x": {"field": "x", "type": "quantitative", "scale": {"domain": [448.5, 473.53], "nice": false}, "axis": {"values": [450,455,460,465,470], "title": ["结合能/eV", "(c)Ti 2p"], "titleX": 99, "titlePadding": 5, "titleLineHeight": 20, "labelOverlap": false, "titleFontWeight": "normal"}}, "y": {"field": "y", "type": "quantitative", "scale": {"domain": [0, 146], "nice": false}, "axis": null}, "text": {"field": "t"}}},
  {"data": {"name": "cI"}, "mark": {"type": "text", "align": "left", "baseline": "middle", "fontStyle": "italic"},
   "encoding": {"x": {"field": "x", "type": "quantitative", "scale": {"domain": [448.5, 473.53], "nice": false}, "axis": {"values": [450,455,460,465,470], "title": ["结合能/eV", "(c)Ti 2p"], "titleX": 99, "titlePadding": 5, "titleLineHeight": 20, "labelOverlap": false, "titleFontWeight": "normal"}}, "y": {"field": "y", "type": "quantitative", "scale": {"domain": [0, 146], "nice": false}, "axis": null}, "text": {"field": "t"}}},
  {"data": {"name": "cS"}, "mark": {"type": "text", "align": "left", "baseline": "middle", "fontSize": 7},
   "encoding": {"x": {"field": "x", "type": "quantitative", "scale": {"domain": [448.5, 473.53], "nice": false}, "axis": {"values": [450,455,460,465,470], "title": ["结合能/eV", "(c)Ti 2p"], "titleX": 99, "titlePadding": 5, "titleLineHeight": 20, "labelOverlap": false, "titleFontWeight": "normal"}}, "y": {"field": "y", "type": "quantitative", "scale": {"domain": [0, 146], "nice": false}, "axis": null}, "text": {"field": "t"}}},
  {"data": {"name": "cA"}, "mark": {"type": "rule", "color": "black", "strokeWidth": 1.2},
   "encoding": {"x": {"field": "x", "type": "quantitative", "scale": {"domain": [448.5, 473.53], "nice": false}, "axis": {"values": [450,455,460,465,470], "title": ["结合能/eV", "(c)Ti 2p"], "titleX": 99, "titlePadding": 5, "titleLineHeight": 20, "labelOverlap": false, "titleFontWeight": "normal"}}, "y": {"field": "y", "type": "quantitative", "scale": {"domain": [0, 146], "nice": false}, "axis": null}, "x2": {"field": "x2"}, "y2": {"field": "y2"}}},
  {"data": {"name": "cA"}, "transform": [{"filter": "datum.id=='c1' || datum.id=='c2'"}], "mark": {"type": "point", "shape": "triangle-up", "angle": 270, "filled": true, "size": 30, "opacity": 1, "color": "black"},
   "encoding": {"x": {"field": "x2", "type": "quantitative", "scale": {"domain": [448.5, 473.53], "nice": false}, "axis": {"values": [450,455,460,465,470], "title": ["结合能/eV", "(c)Ti 2p"], "titleX": 99, "titlePadding": 5, "titleLineHeight": 20, "labelOverlap": false, "titleFontWeight": "normal"}}, "y": {"field": "y2", "type": "quantitative", "scale": {"domain": [0, 146], "nice": false}, "axis": null}}},
  {"data": {"name": "cA"}, "transform": [{"filter": "datum.id=='c3' || datum.id=='c4'"}], "mark": {"type": "point", "shape": "triangle-up", "angle": 90, "filled": true, "size": 30, "opacity": 1, "color": "black"},
   "encoding": {"x": {"field": "x2", "type": "quantitative", "scale": {"domain": [448.5, 473.53], "nice": false}, "axis": {"values": [450,455,460,465,470], "title": ["结合能/eV", "(c)Ti 2p"], "titleX": 99, "titlePadding": 5, "titleLineHeight": 20, "labelOverlap": false, "titleFontWeight": "normal"}}, "y": {"field": "y2", "type": "quantitative", "scale": {"domain": [0, 146], "nice": false}, "axis": null}}}
 ]},
 {"width": 175, "height": 146, "layer": [
  {"data": {"name": "dL"}, "mark": {"type": "line", "color": "black", "strokeWidth": 1.1, "interpolate": "monotone"},
   "encoding": {"x": {"field": "x", "type": "quantitative", "scale": {"domain": [526, 540], "nice": false}, "axis": {"values": [526,528,530,532,534,536,538,540], "title": ["结合能/eV", "(d)O 1s"], "titleX": 97, "titlePadding": 5, "titleLineHeight": 20, "labelOverlap": false, "titleFontWeight": "normal"}},
    "y": {"field": "y", "type": "quantitative", "scale": {"domain": [0, 146], "nice": false}, "axis": null}, "detail": {"field": "s"}}},
  {"data": {"name": "dD"}, "mark": {"type": "rule", "color": "black", "strokeWidth": 0.8, "strokeDash": [2, 2]},
   "encoding": {"x": {"field": "x", "type": "quantitative", "scale": {"domain": [526, 540], "nice": false}, "axis": {"values": [526,528,530,532,534,536,538,540], "title": ["结合能/eV", "(d)O 1s"], "titleX": 97, "titlePadding": 5, "titleLineHeight": 20, "labelOverlap": false, "titleFontWeight": "normal"}}, "y": {"field": "y", "type": "quantitative", "scale": {"domain": [0, 146], "nice": false}, "axis": null}, "y2": {"field": "y2"}}},
  {"data": {"name": "dT"}, "mark": {"type": "text", "align": "left", "baseline": "middle"},
   "encoding": {"x": {"field": "x", "type": "quantitative", "scale": {"domain": [526, 540], "nice": false}, "axis": {"values": [526,528,530,532,534,536,538,540], "title": ["结合能/eV", "(d)O 1s"], "titleX": 97, "titlePadding": 5, "titleLineHeight": 20, "labelOverlap": false, "titleFontWeight": "normal"}}, "y": {"field": "y", "type": "quantitative", "scale": {"domain": [0, 146], "nice": false}, "axis": null}, "text": {"field": "t"}}},
  {"data": {"name": "dA"}, "mark": {"type": "rule", "color": "black", "strokeWidth": 1.2},
   "encoding": {"x": {"field": "x", "type": "quantitative", "scale": {"domain": [526, 540], "nice": false}, "axis": {"values": [526,528,530,532,534,536,538,540], "title": ["结合能/eV", "(d)O 1s"], "titleX": 97, "titlePadding": 5, "titleLineHeight": 20, "labelOverlap": false, "titleFontWeight": "normal"}}, "y": {"field": "y", "type": "quantitative", "scale": {"domain": [0, 146], "nice": false}, "axis": null}, "x2": {"field": "x2"}, "y2": {"field": "y2"}}},
  {"data": {"name": "dA"}, "mark": {"type": "point", "shape": "triangle-up", "angle": 270, "filled": true, "size": 30, "opacity": 1, "color": "black"},
   "encoding": {"x": {"field": "x2", "type": "quantitative", "scale": {"domain": [526, 540], "nice": false}, "axis": {"values": [526,528,530,532,534,536,538,540], "title": ["结合能/eV", "(d)O 1s"], "titleX": 97, "titlePadding": 5, "titleLineHeight": 20, "labelOverlap": false, "titleFontWeight": "normal"}}, "y": {"field": "y2", "type": "quantitative", "scale": {"domain": [0, 146], "nice": false}, "axis": null}}}
 ]}
]
}
